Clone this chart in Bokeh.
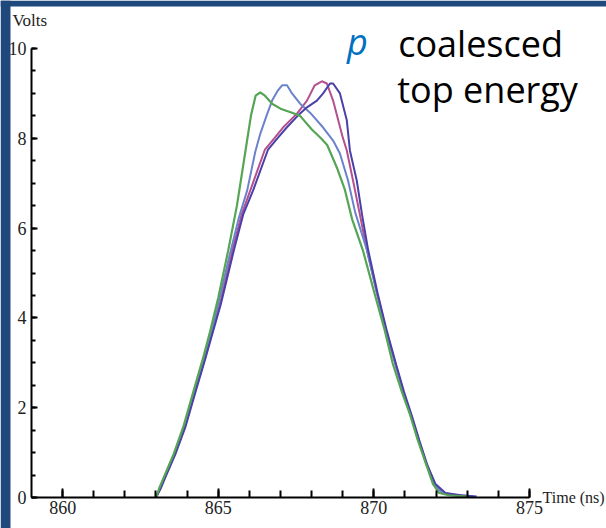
from bokeh.plotting import figure
from bokeh.models import FixedTicker, Label, Range1d, BoxAnnotation
from bokeh.embed import file_html
from bokeh.resources import INLINE

# ---- data ----
green_t = [863.0, 863.1, 863.25, 863.57, 863.89, 864.21, 864.53, 864.74, 865.0, 865.32, 865.6, 865.87, 866.05,
           866.2, 866.35, 866.5, 866.73, 867.0, 867.37, 867.63, 868.0, 868.3, 868.5, 868.81, 869.07, 869.3,
           869.65, 870.0, 870.35, 870.6, 870.9, 871.15, 871.4, 871.7, 871.9, 872.1, 872.4, 873.0]
green_v = [0.0, 0.2, 0.45, 0.97, 1.6, 2.38, 3.15, 3.7, 4.45, 5.5, 6.5, 7.7, 8.5,
           8.95, 9.02, 8.95, 8.77, 8.66, 8.57, 8.5, 8.2, 8.0, 7.85, 7.35, 6.85, 6.2,
           5.5, 4.6, 3.72, 3.0, 2.35, 1.87, 1.3, 0.7, 0.3, 0.1, 0.05, 0.02]

lblue_t = [863.0, 863.12, 863.27, 863.59, 863.91, 864.23, 864.55, 864.77, 865.03, 865.35, 865.65, 865.93,
           866.19, 866.35, 866.55, 866.73, 866.9, 867.05, 867.21, 867.37, 867.63, 867.95, 868.37, 868.69,
           868.91, 869.17, 869.4, 869.78, 870.1, 870.4, 870.7, 870.95, 871.2, 871.45, 871.7, 871.95, 872.2,
           872.6, 873.1]
lblue_v = [0.0, 0.2, 0.45, 0.97, 1.58, 2.36, 3.12, 3.68, 4.4, 5.35, 6.2, 6.84,
           7.7, 8.1, 8.5, 8.84, 9.05, 9.18, 9.18, 9.0, 8.77, 8.57, 8.24, 7.95,
           7.66, 7.06, 6.35, 5.5, 4.55, 3.7, 2.95, 2.35, 1.82, 1.25, 0.72, 0.3, 0.1,
           0.05, 0.02]

magenta_t = [863.0, 863.13, 863.28, 863.6, 863.92, 864.24, 864.56, 864.78, 865.05, 865.45, 865.75, 866.03,
             866.5, 866.8, 867.08, 867.53, 867.85, 868.1, 868.33, 868.49, 868.69, 869.0, 869.13, 869.33,
             869.55, 869.78, 870.1, 870.4, 870.7, 870.95, 871.2, 871.45, 871.7, 871.95, 872.2, 872.7, 873.2]
magenta_v = [0.0, 0.2, 0.45, 0.96, 1.56, 2.33, 3.08, 3.62, 4.3, 5.5, 6.3, 6.84,
             7.75, 8.0, 8.24, 8.55, 8.84, 9.18, 9.27, 9.22, 8.84, 8.02, 7.73, 7.06,
             6.3, 5.5, 4.55, 3.7, 2.95, 2.35, 1.82, 1.25, 0.72, 0.3, 0.1, 0.05, 0.02]

dblue_t = [863.0, 863.15, 863.3, 863.62, 863.94, 864.26, 864.58, 864.8, 865.08, 865.5, 865.8, 866.12,
           866.6, 866.9, 867.2, 867.55, 867.85, 868.17, 868.37, 868.59, 868.69, 868.91, 869.13, 869.23,
           869.45, 869.62, 869.82, 870.12, 870.42, 870.72, 870.97, 871.22, 871.47, 871.72, 871.98, 872.3,
           872.8, 873.3]
dblue_v = [0.0, 0.2, 0.45, 0.96, 1.56, 2.33, 3.08, 3.62, 4.3, 5.5, 6.3, 6.84,
           7.75, 8.0, 8.24, 8.5, 8.69, 8.84, 9.0, 9.22, 9.22, 9.0, 8.4, 7.73,
           7.06, 6.3, 5.5, 4.55, 3.7, 2.95, 2.35, 1.82, 1.25, 0.72, 0.3, 0.1,
           0.05, 0.02]

x_major = [860, 865, 870, 875]
x_minor = list(range(860, 876))
y_major = [0, 2, 4, 6, 8, 10]
y_minor = [i * 0.5 for i in range(0, 21)]
x_axis_span = (859, 875)
y_axis_span = (0, 10)

BG = "#1f497d"

p = figure(width=606, height=528, output_backend="svg", toolbar_location=None,
           x_range=Range1d(858.004, 877.474), y_range=Range1d(-0.690, 11.069),
           min_border_left=0, min_border_right=0, min_border_top=0, min_border_bottom=0)
p.border_fill_color = "white"
p.background_fill_color = "white"
p.outline_line_color = None
p.xgrid.visible = False
p.ygrid.visible = False

# blue slide border (left and top strips)
p.add_layout(BoxAnnotation(right=858.325, fill_color=BG, fill_alpha=1, line_color=None, level="underlay"))
p.add_layout(BoxAnnotation(bottom=10.935, fill_color=BG, fill_alpha=1, line_color=None, level="underlay"))

p.xaxis.fixed_location = 0
p.yaxis.fixed_location = 859
p.xaxis.bounds = x_axis_span
p.yaxis.bounds = y_axis_span
p.xaxis.ticker = FixedTicker(ticks=x_major, minor_ticks=x_minor)
p.yaxis.ticker = FixedTicker(ticks=y_major, minor_ticks=y_minor)

p.xaxis.axis_line_width = 2
p.yaxis.axis_line_width = 2
p.xaxis.axis_line_color = "black"
p.yaxis.axis_line_color = "black"
p.xaxis.major_tick_line_color = "black"
p.yaxis.major_tick_line_color = "black"
p.xaxis.minor_tick_line_color = "black"
p.yaxis.minor_tick_line_color = "black"
p.xaxis.major_tick_line_width = 2
p.yaxis.major_tick_line_width = 2
p.xaxis.minor_tick_line_width = 2
p.yaxis.minor_tick_line_width = 2
p.xaxis.major_tick_out = 0
p.yaxis.major_tick_out = 0
p.xaxis.minor_tick_out = 0
p.yaxis.minor_tick_out = 0
p.xaxis.major_tick_in = 9
p.xaxis.minor_tick_in = 7
p.yaxis.major_tick_in = 6
p.yaxis.minor_tick_in = 4
p.xaxis.major_label_standoff = 3
p.yaxis.major_label_standoff = 5
p.xaxis.major_label_text_font = "Liberation Serif"
p.yaxis.major_label_text_font = "Liberation Serif"
p.xaxis.major_label_text_font_size = "18px"
p.yaxis.major_label_text_font_size = "18px"
p.xaxis.major_label_text_color = "#222222"
p.yaxis.major_label_text_color = "#222222"

p.line(magenta_t, magenta_v, line_color="#b4508e", line_width=2)
p.line(lblue_t, lblue_v, line_color="#6b82cc", line_width=2)
p.line(dblue_t, dblue_v, line_color="#4a40a8", line_width=2)
p.line(green_t, green_v, line_color="#55a555", line_width=2.2)

p.add_layout(Label(x=858.39, y=10.62, text="Volts", text_font="Liberation Serif",
                   text_font_size="17px", text_color="#222222", text_baseline="alphabetic"))
p.add_layout(Label(x=875.42, y=0.0, text="Time (ns)", text_font="Liberation Serif",
                   text_font_size="16px", text_color="#222222", text_baseline="middle"))
p.add_layout(Label(x=869.14, y=10.15, text="p", text_font="Open Sans", text_font_style="italic",
                   text_font_size="36px", text_color="#0070c0", text_baseline="alphabetic"))
p.add_layout(Label(x=870.78, y=10.12, text="coalesced", text_font="Open Sans",
                   text_font_size="36px", text_color="#000000", text_baseline="alphabetic"))
p.add_layout(Label(x=870.75, y=9.08, text="top energy", text_font="Open Sans",
                   text_font_size="36px", text_color="#000000", text_baseline="alphabetic"))

open("out.html", "w").write(file_html(p, INLINE))
